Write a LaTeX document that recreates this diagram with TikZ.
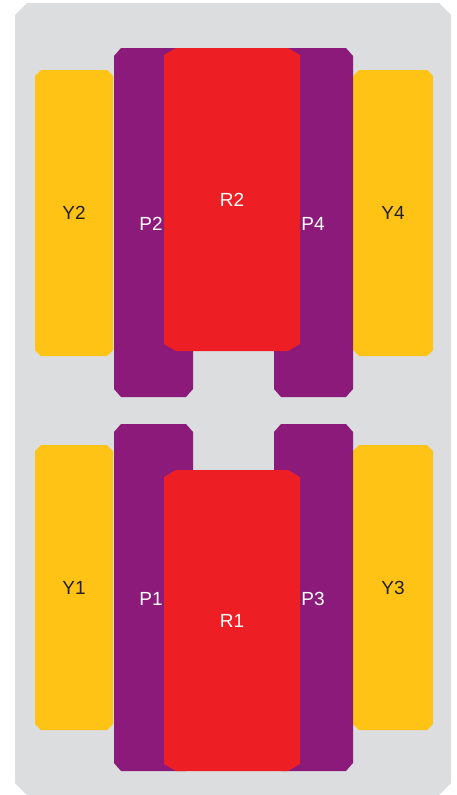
\documentclass[tikz,border=0pt]{standalone}
\usepackage{fontspec}
\setmainfont{Liberation Sans}
\definecolor{bggray}{HTML}{DCDDDF}
\definecolor{slotyellow}{HTML}{FEC314}
\definecolor{slotpurple}{HTML}{8C1A7B}
\definecolor{slotred}{HTML}{ED1F24}
\definecolor{darktext}{HTML}{231F20}
\tikzset{
  cut fill/.style n args={3}{path picture={
    \fill[#1] ([xshift=#2]path picture bounding box.south west)
      -- ([xshift=-#2]path picture bounding box.south east)
      -- ([yshift=#3]path picture bounding box.south east)
      -- ([yshift=-#3]path picture bounding box.north east)
      -- ([xshift=-#2]path picture bounding box.north east)
      -- ([xshift=#2]path picture bounding box.north west)
      -- ([yshift=-#3]path picture bounding box.north west)
      -- ([yshift=#3]path picture bounding box.south west) -- cycle;}},
  plate/.style={rectangle, draw=none, inner sep=0pt, cut fill={bggray}{12pt}{12pt}},
  ybox/.style={rectangle, draw=none, inner sep=0pt, text=darktext,
    cut fill={slotyellow}{6pt}{6pt}, font=\fontsize{19}{19}\selectfont},
  pbox/.style={rectangle, draw=none, inner sep=0pt, cut fill={slotpurple}{7pt}{8pt}},
  rbox/.style={rectangle, draw=none, inner sep=0pt, text=white,
    cut fill={slotred}{12pt}{7pt}, font=\fontsize{19}{19}\selectfont},
  plabel/.style={text=white, inner sep=1pt, font=\fontsize{19}{19}\selectfont}
}
\begin{document}
\begin{tikzpicture}[x=1pt, y=-1pt]
\useasboundingbox (0,0) rectangle (456,795);
\node[plate, minimum width=436pt, minimum height=792pt] (plate) at (233,399) {};
% top row
\node[ybox, minimum width=78pt, minimum height=286pt] (y2) at (74,213) {Y2};
\node[ybox, minimum width=80pt, minimum height=286pt] (y4) at (393,213) {Y4};
\node[pbox, minimum width=79pt, minimum height=349pt] (p2) at (153.5,222.5) {};
\node[pbox, minimum width=79pt, minimum height=349pt] (p4) at (313.5,222.5) {};
\node[rbox, minimum width=136pt, minimum height=303pt] (r2) at (232,199.5) {R2};
% bottom row
\node[ybox, minimum width=78pt, minimum height=285pt] (y1) at (74,587.5) {Y1};
\node[ybox, minimum width=80pt, minimum height=285pt] (y3) at (393,587.5) {Y3};
\node[pbox, minimum width=79pt, minimum height=347pt] (p1) at (153.5,597.5) {};
\node[pbox, minimum width=79pt, minimum height=347pt] (p3) at (313.5,597.5) {};
\node[rbox, minimum width=136pt, minimum height=301pt] (r1) at (232,620.5) {R1};
% purple labels sit against the red bays
\node[plabel, anchor=east] (p2txt) at (r2.west |- 0,224) {P2};
\node[plabel, anchor=west] (p4txt) at (r2.east |- 0,224) {P4};
\node[plabel, anchor=east] (p1txt) at (r1.west |- 0,599) {P1};
\node[plabel, anchor=west] (p3txt) at (r1.east |- 0,599) {P3};
\end{tikzpicture}
\end{document}
